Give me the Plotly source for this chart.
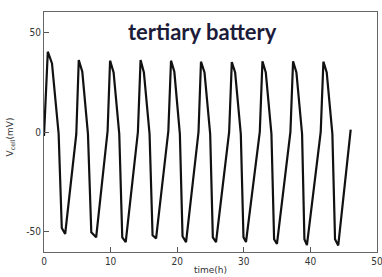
import plotly.graph_objects as go

time_h = [0.0, 0.57, 1.2, 2.2, 2.67, 3.18,
          4.85, 5.22, 5.75, 6.6, 7.1, 7.83,
          9.55, 9.92, 10.45, 11.3, 11.75, 12.27,
          14.1, 14.5, 15.0, 15.85, 16.3, 16.83,
          18.67, 19.07, 19.57, 20.4, 20.8, 21.33,
          23.2, 23.57, 24.1, 24.95, 25.35, 25.83,
          27.8, 28.2, 28.7, 29.55, 29.95, 30.33,
          32.4, 32.8, 33.3, 34.15, 34.55, 34.98,
          37.0, 37.4, 37.9, 38.75, 39.1, 39.48,
          41.55, 41.95, 42.45, 43.3, 43.7, 44.18,
          46.05]
v_cell = [-2, 40.4, 34.5, -1, -48.3, -51.3,
          -1, 36.2, 30.3, -1, -50.5, -53,
          0.5, 35.9, 30, -1, -53, -55.4,
          0, 36.2, 30, -1, -52, -53.5,
          0.5, 35.9, 30.3, -1, -52.5, -55.4,
          0, 35.4, 30, -1, -53, -55.4,
          0, 35.2, 30, -1, -53, -55.4,
          0, 35.6, 30, -1, -54, -56.3,
          0, 35.6, 30, -1, -54, -56.9,
          0, 35.4, 30, -1, -54, -57.1,
          1.2]

x_ticks = [0, 10, 20, 30, 40, 50]
y_ticks = [-50, 0, 50]
y_tick_text = ["-50", "0", "50"]

fig = go.Figure()
fig.add_trace(go.Scatter(x=time_h, y=v_cell, mode="lines",
                         line=dict(color="#111111", width=2.2),
                         showlegend=False, hoverinfo="skip"))

tick_font = dict(family="DejaVu Sans Condensed, DejaVu Sans", size=10, color="#333333")
fig.update_layout(
    width=382, height=277,
    margin=dict(l=44, r=5, t=12, b=25),
    paper_bgcolor="white", plot_bgcolor="white",
    xaxis=dict(range=[0, 50], tickvals=x_ticks, ticks="inside", ticklen=5,
               tickcolor="#555555", showline=True, linecolor="#666666", linewidth=1,
               mirror=True, showgrid=False, zeroline=False, tickfont=tick_font,
               automargin=False, ticklabeloverflow="allow"),
    yaxis=dict(range=[-60.4, 60.4], tickvals=y_ticks, ticktext=y_tick_text,
               ticks="inside", ticklen=5, tickcolor="#555555", showline=True,
               linecolor="#666666", linewidth=1, mirror=True, showgrid=False,
               zeroline=False, tickfont=tick_font, automargin=False),
)
fig.add_annotation(text="<b>tertiary battery</b>", xref="paper", yref="paper",
                   x=0.476, y=0.92, xanchor="center", yanchor="middle", showarrow=False,
                   font=dict(family="Lato", size=22, color="#1c1c3a"))
fig.add_annotation(text="time(h)", xref="paper", yref="paper",
                   x=0.5, y=-0.075, xanchor="center", yanchor="middle", showarrow=False,
                   font=dict(family="DejaVu Sans", size=9, color="#333333"))
fig.add_annotation(text="V<sub>cell</sub>(mV)", xref="paper", yref="paper",
                   x=-0.1, y=0.48, xanchor="center", yanchor="middle", showarrow=False,
                   textangle=-90,
                   font=dict(family="DejaVu Sans", size=9, color="#333333"))

fig.write_html("out.html", config={"displayModeBar": False},
               post_script="document.body.style.margin='0px';")
